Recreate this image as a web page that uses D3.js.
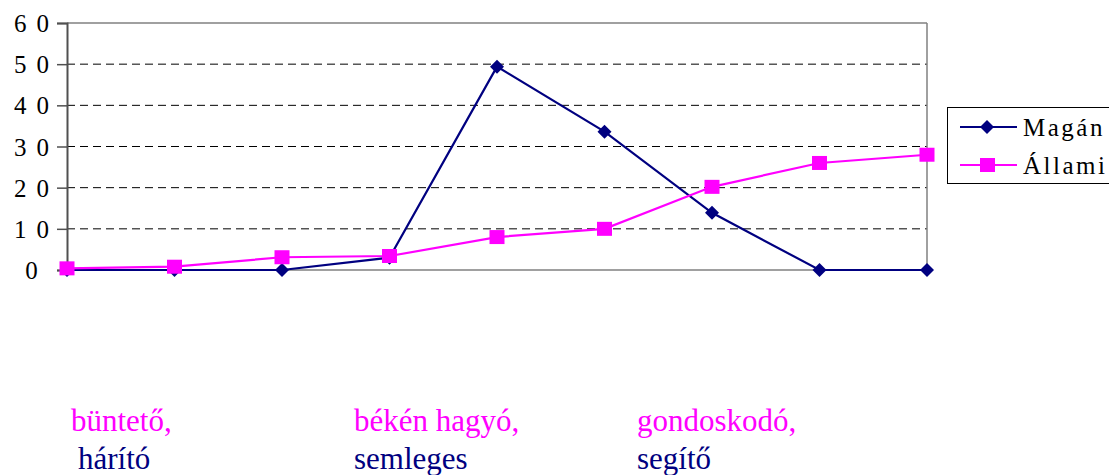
<!DOCTYPE html>
<html>
<head>
<meta charset="utf-8">
<script src="https://cdn.jsdelivr.net/npm/d3@7"></script>
<style>
  html, body { margin: 0; padding: 0; background: #fff; }
  svg { display: block; font-family: "Liberation Serif", "Times New Roman", serif; }
</style>
</head>
<body>
<svg id="chart" width="1109" height="475"></svg>
<script>
// ---- data ----
const categories = ["1", "2", "3", "4", "5", "6", "7", "8", "9"];
const maganValues = [0, 0, 0, 3, 49.4, 33.6, 13.9, 0, 0];
const allamiValues = [0.4, 0.8, 3.1, 3.4, 8.0, 10.0, 20.2, 26.0, 28.0];
const seriesNames = ["Magán", "Állami"];
const yTicks = [0, 10, 20, 30, 40, 50, 60];
const bottomTop = ["büntető,", "békén hagyó,", "gondoskodó,"];
const bottomSub = ["hárító", "semleges", "segítő"];

// ---- layout ----
const svg = d3.select("#chart");
const plotL = 67, plotR = 927, plotT = 23, plotB = 270;
const navy = "#000080", pink = "#FF00FF";

const x = d3.scalePoint().domain(categories).range([plotL, plotR]).padding(0);
const y = d3.scaleLinear().domain([0, 60]).range([plotB, plotT]);

// gridlines
svg.append("g").selectAll("line")
  .data(yTicks.filter(t => t > 0 && t < 60))
  .join("line")
  .attr("x1", plotL).attr("x2", plotR)
  .attr("y1", d => y(d)).attr("y2", d => y(d))
  .attr("stroke", "#000").attr("stroke-width", 1)
  .attr("stroke-dasharray", "8,5");

// plot frame top / right
svg.append("line").attr("x1", plotL).attr("x2", plotR).attr("y1", y(60)).attr("y2", y(60))
  .attr("stroke", "#808080").attr("stroke-width", 1.5);
svg.append("line").attr("x1", plotR).attr("x2", plotR).attr("y1", y(60)).attr("y2", y(0))
  .attr("stroke", "#808080").attr("stroke-width", 1.5);
// bottom axis
svg.append("line").attr("x1", plotL).attr("x2", plotR).attr("y1", y(0)).attr("y2", y(0))
  .attr("stroke", "#808080").attr("stroke-width", 1.5);

// left axis
const yAxis = d3.axisLeft(y).tickValues(yTicks).tickSize(10).tickFormat(d3.format("d"));
const ya = svg.append("g").attr("transform", `translate(${plotL},0)`).call(yAxis);
ya.select(".domain").attr("stroke", "#505050").attr("stroke-width", 2);
ya.selectAll(".tick line").attr("stroke", "#505050").attr("stroke-width", 1.5);
ya.selectAll(".tick text")
  .attr("x", -36).attr("dx", 5.5).attr("dy", "0.34em")
  .attr("text-anchor", "middle")
  .attr("font-family", "'Liberation Serif', serif")
  .attr("font-size", 25).attr("letter-spacing", "10px")
  .attr("fill", "#000");

// lines
const line = d3.line().x((d, i) => x(categories[i])).y(d => y(d));
svg.append("path").datum(maganValues).attr("d", line)
  .attr("fill", "none").attr("stroke", navy).attr("stroke-width", 2.2);
svg.append("g").selectAll("path").data(maganValues).join("path")
  .attr("transform", (d, i) => `translate(${x(categories[i])},${y(d)})`)
  .attr("d", "M0,-7L7,0L0,7L-7,0Z").attr("fill", navy);

svg.append("path").datum(allamiValues).attr("d", line)
  .attr("fill", "none").attr("stroke", pink).attr("stroke-width", 2.2);
svg.append("g").selectAll("rect").data(allamiValues).join("rect")
  .attr("x", (d, i) => x(categories[i]) - 7.5).attr("y", d => y(d) - 7)
  .attr("width", 15).attr("height", 14).attr("fill", pink);

// legend
const lg = svg.append("g");
lg.append("rect").attr("x", 947.5).attr("y", 107.5).attr("width", 200).attr("height", 76)
  .attr("fill", "#fff").attr("stroke", "#000").attr("stroke-width", 1);
const legendRows = [
  { name: seriesNames[0], color: navy, y: 127, shape: "diamond" },
  { name: seriesNames[1], color: pink, y: 165, shape: "square" }
];
legendRows.forEach(r => {
  lg.append("line").attr("x1", 960).attr("x2", 1017).attr("y1", r.y).attr("y2", r.y)
    .attr("stroke", r.color).attr("stroke-width", 2);
  if (r.shape === "diamond") {
    lg.append("path").attr("transform", `translate(987,${r.y})`)
      .attr("d", "M0,-7L7,0L0,7L-7,0Z").attr("fill", r.color);
  } else {
    lg.append("rect").attr("x", 980).attr("y", r.y - 7).attr("width", 15).attr("height", 14)
      .attr("fill", r.color);
  }
  lg.append("text").attr("x", 1023).attr("y", r.y + 9)
    .attr("font-size", 25).attr("letter-spacing", "2.5px").attr("fill", "#000")
    .text(r.name);
});

// bottom annotations
const annX = [71, 354, 637];
const annSubX = [78, 354, 637];
bottomTop.forEach((t, i) => {
  svg.append("text").attr("x", annX[i]).attr("y", 431).attr("font-size", 31)
    .attr("fill", pink).text(t);
  svg.append("text").attr("x", annSubX[i]).attr("y", 469).attr("font-size", 31)
    .attr("fill", navy).text(bottomSub[i]);
});
</script>
</body>
</html>
